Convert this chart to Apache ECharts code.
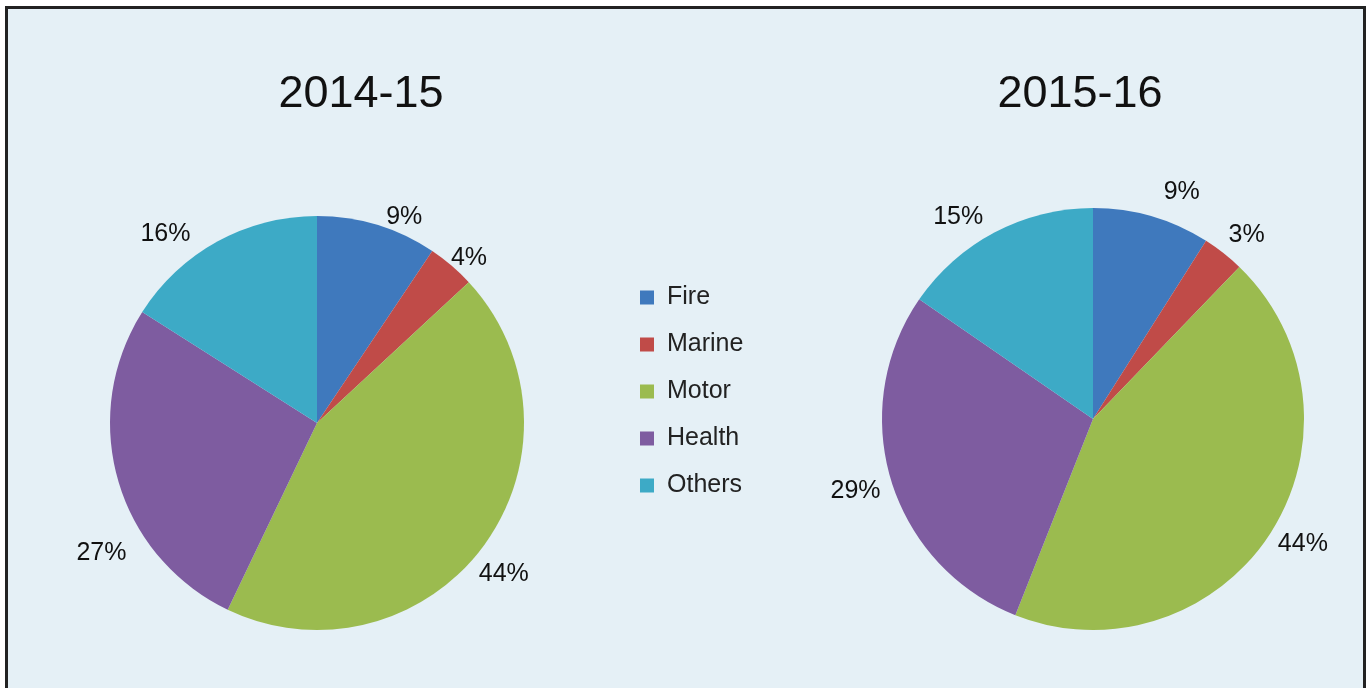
<!DOCTYPE html>
<html><head><meta charset="utf-8">
<script src="https://cdn.jsdelivr.net/npm/echarts@6/dist/echarts.min.js"></script>
<style>html,body{margin:0;padding:0;background:#fff;}#c{width:1367px;height:688px;}</style>
</head><body><div id="c"></div>
<script>
const categories = ['Fire', 'Marine', 'Motor', 'Health', 'Others'];
const titles = ['2014-15', '2015-16'];
const values2014 = [9.4, 3.7, 44.0, 26.9, 16.0];
const values2015 = [9.0, 3.2, 43.8, 28.6, 15.4];
const colors = ['#3F79BD', '#C04B48', '#9BBB4F', '#7E5CA0', '#3DAAC6'];

// label nudges (styling only), per slice, to mimic the original label placement
const nudge2014 = [[-3, 2], [-16, 0], [-22, 22], [27, 70], [-13, 1]];
const nudge2015 = [[0, -15], [-10, -10], [-10, 6], [8, 8], [2, -6]];

const chart = echarts.init(document.getElementById('c'));
const font = 'Liberation Sans, Arial, sans-serif';
function pie(vals, center, radius, nudge) {
  return {
    type: 'pie', center: center, radius: radius, startAngle: 90, clockwise: true,
    percentPrecision: 0,
    data: categories.map((n, i) => ({ name: n, value: vals[i] })),
    label: { show: true, position: 'outside', formatter: '{d}%', color: '#111', fontSize: 25, fontFamily: font },
    labelLine: { show: false, length: 10, length2: 4 },
    labelLayout: function (p) { const n = nudge[p.dataIndex]; return { dx: n[0], dy: n[1] }; },
    itemStyle: { borderWidth: 0 },
    emphasis: { disabled: true },
    animation: false
  };
}
chart.setOption({
  backgroundColor: '#ffffff',
  color: colors,
  animation: false,
  graphic: [{ type: 'rect', z: -10, shape: { x: 6.5, y: 7.5, width: 1358, height: 700 },
    style: { fill: '#E5F0F6', stroke: '#222', lineWidth: 3 } }],
  title: [
    { text: titles[0], left: 356, top: 67, textAlign: 'center', textStyle: { fontSize: 45, fontWeight: 'normal', color: '#111', fontFamily: font } },
    { text: titles[1], left: 1075, top: 67, textAlign: 'center', textStyle: { fontSize: 45, fontWeight: 'normal', color: '#111', fontFamily: font } }
  ],
  legend: {
    orient: 'vertical', left: 635, top: 280, icon: 'rect', itemWidth: 14, itemHeight: 14, itemGap: 22,
    data: categories,
    textStyle: { fontSize: 25, color: '#222', fontFamily: font, padding: [0, 0, 0, 8], lineHeight: 24 }
  },
  series: [pie(values2014, [317, 423], 207, nudge2014), pie(values2015, [1093, 419], 211, nudge2015)]
});
</script></body></html>
